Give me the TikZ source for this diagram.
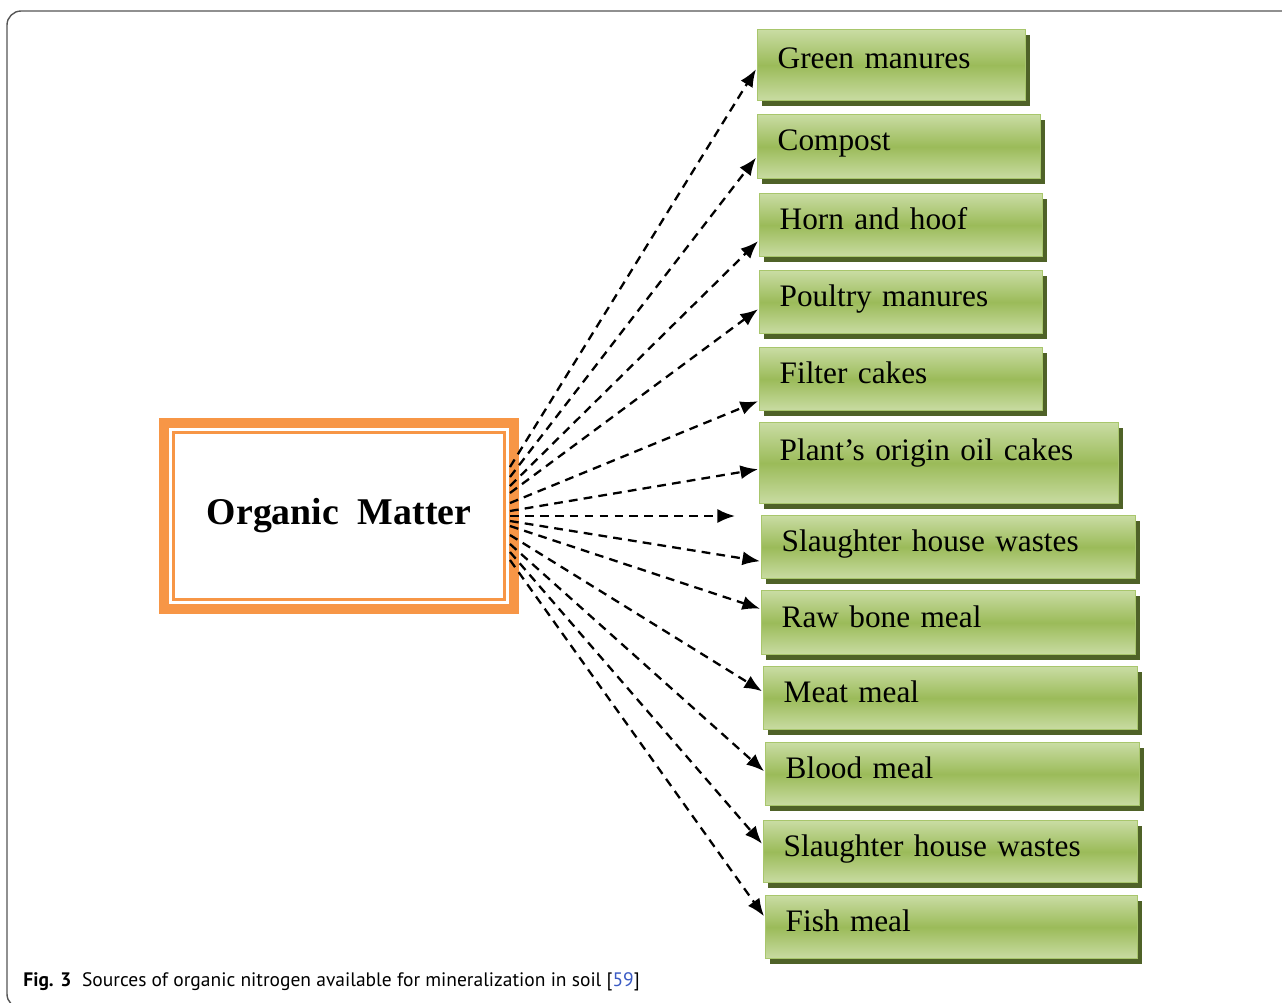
\documentclass[tikz,border=0pt]{standalone}
\usepackage{fontspec}
\setmainfont{Liberation Serif}
\newfontfamily\capfont{PT Sans}
\usetikzlibrary{arrows.meta,shadows,calc}

\definecolor{omorange}{HTML}{F79646}
\definecolor{boxlight}{HTML}{C9DCA3}
\definecolor{boxmid}{HTML}{9BBB59}
\definecolor{boxedge}{HTML}{A8C66C}
\definecolor{boxshadow}{HTML}{4F6228}
\definecolor{framegray}{HTML}{555555}
\definecolor{citeblue}{HTML}{3B5BC4}

\begin{document}
\begin{tikzpicture}[x=0.02cm, y=-0.02cm,
  source/.style={draw=boxedge, line width=0.8pt, top color=boxlight, bottom color=boxlight, middle color=boxmid,
    drop shadow={shadow xshift=2.4pt, shadow yshift=-2.8pt, fill=boxshadow, opacity=1},
    anchor=north west, inner xsep=0.4cm, inner ysep=0pt, align=left, font=\fontsize{17.8}{20}\selectfont},
  feed/.style={dash pattern=on 5pt off 3.5pt, line width=1.3pt, -{Latex[length=10pt,width=8pt]}}]
\useasboundingbox (0,0) rectangle (1282,1002);

% frame
\draw[framegray, line width=0.8pt, rounded corners=8pt] (1300,11) -- (7,11) -- (7,1008) -- (1300,1008);

% organic matter box
\node[draw=omorange, line width=5.7pt, outer sep=0pt, minimum width=7cm, minimum height=3.72cm,
  font=\fontsize{21.5}{24}\bfseries\selectfont] (om) at (339,516) {Organic\ \ Matter};
\draw[omorange, line width=1.6pt] ($(om.north west)+(9.5,9.5)$) rectangle ($(om.south east)+(-9.5,-9.5)$);

% sources
\foreach \nm/\xx/\yy/\ww/\hh/\dep/\txt in {
    g1/757/29/268/71/0.3/Green manures,
    g2/757/114/283/64/0.26/Compost,
    g3/759/193/283/63/0.26/Horn and hoof,
    g4/759/270/283/63/0.26/Poultry manures,
    g5/759/347/283/63/0.26/Filter cakes,
    g6/759/422/359/81/0.54/Plant’s origin oil cakes,
    g7/761/515/374/63/0.26/Slaughter house wastes,
    g8/761/590/374/64/0.26/Raw bone meal,
    g9/763/666/374/63/0.26/Meat meal,
    g10/765/742/374/63/0.26/Blood meal,
    g11/763/820/374/62/0.26/Slaughter house wastes,
    g12/765/895/372/63/0.26/Fish meal}
{
  \pgfmathsetmacro\tw{\ww*0.02-0.8}
  \pgfmathsetmacro\bh{\hh*0.02}
  \node[source, text width=\tw cm, minimum height=\bh cm, text depth=\dep cm] (\nm) at (\xx,\yy) {\txt};
}

% arrows
\foreach \src/\dy/\sy in {g1/4/-49, g2/11/-39, g3/16/-30, g4/7/-23, g5/22/-13, g6/6/-5,
    g7/14/5, g8/-14/10, g9/-7/19, g10/-3/28, g11/-8/36, g12/-11/44}
  \draw[feed] ($(om.east)+(-4,\sy)$) -- ($(\src.west)+(-1,\dy)$);
\coordinate (gap) at (735,516);
\draw[feed] ($(om.east)+(-4,0)$) -- (gap);

% caption
\node[anchor=west, inner sep=0pt, font=\capfont\fontsize{11.1}{13}\selectfont] (cap) at (23,982)
  {\textbf{Fig. 3}\hspace{0.55em}Sources of organic nitrogen available for mineralization in soil [\textcolor{citeblue}{59}]};
\end{tikzpicture}
\end{document}
